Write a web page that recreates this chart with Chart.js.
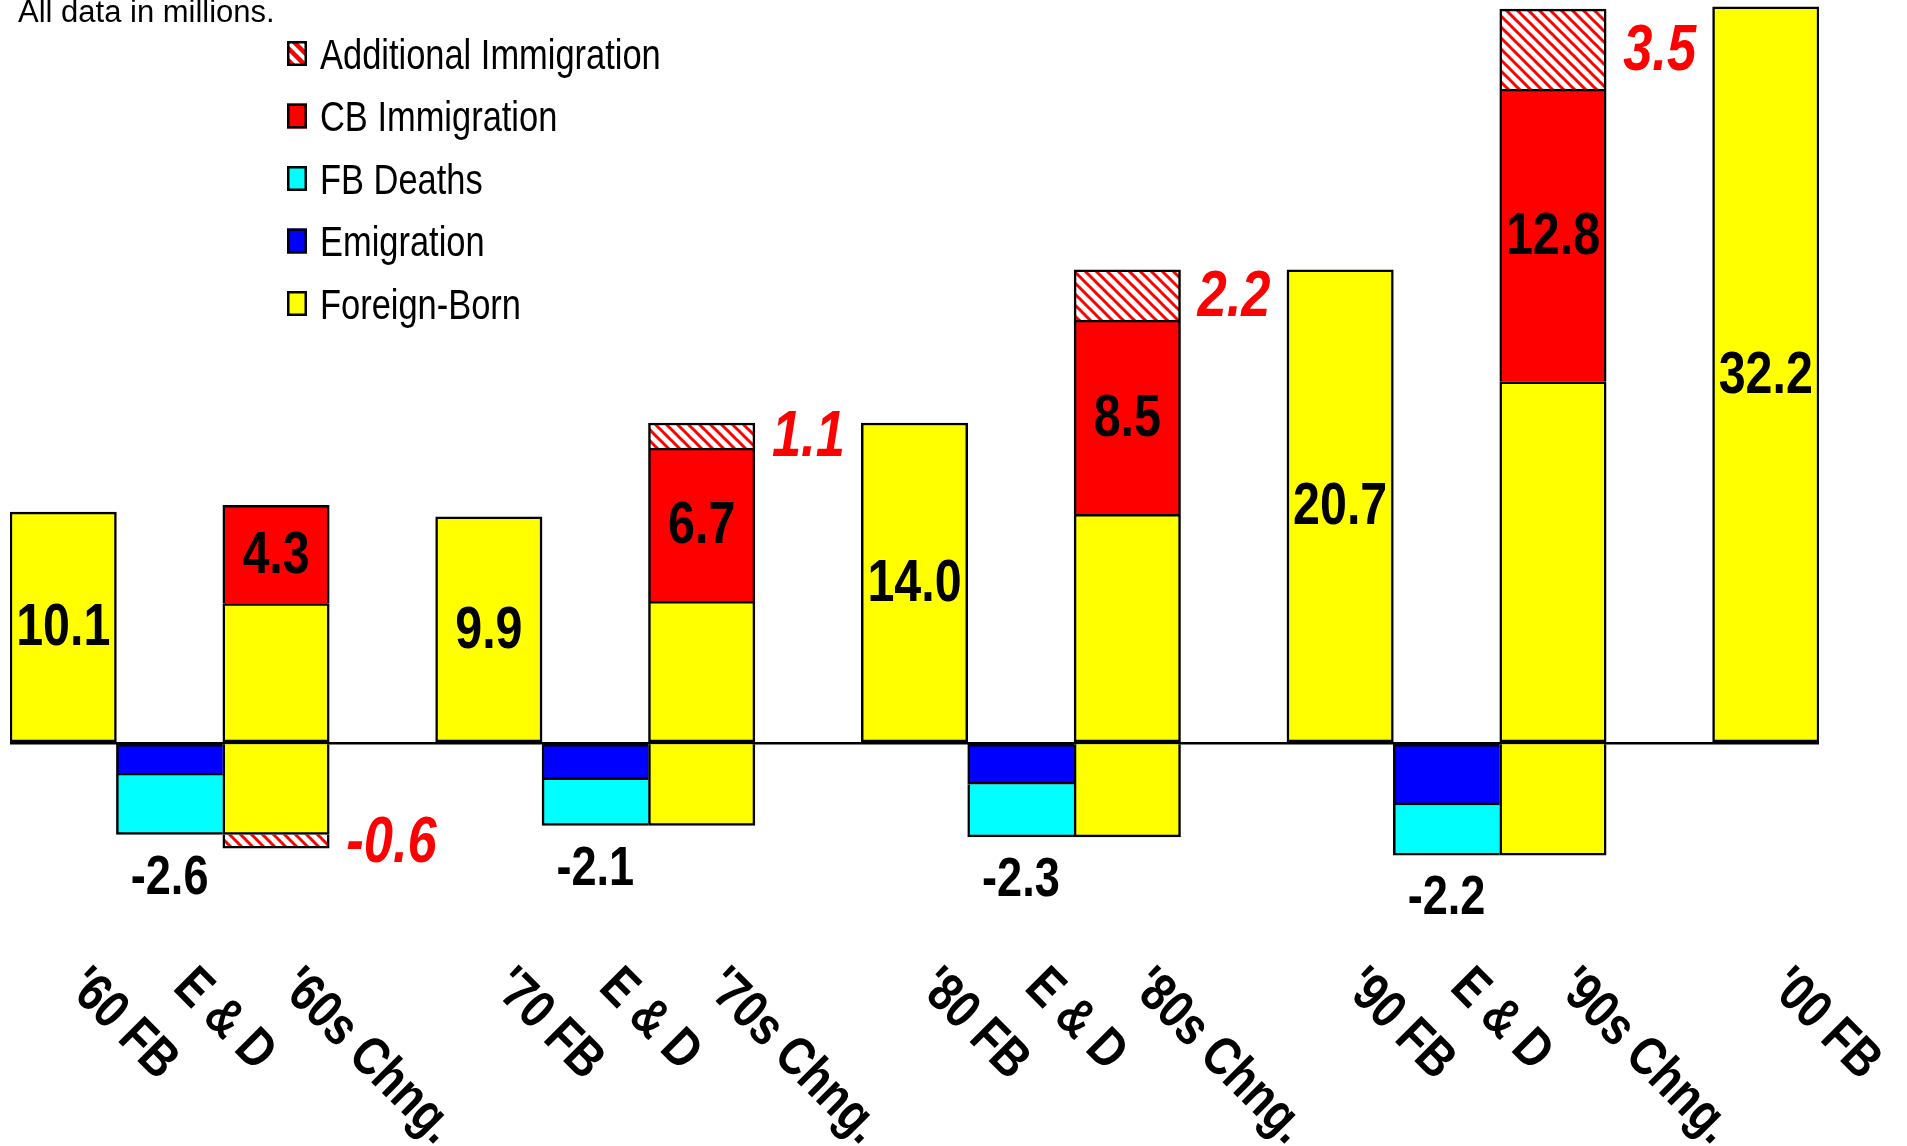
<!DOCTYPE html>
<html>
<head>
<meta charset="utf-8">
<script src="https://cdn.jsdelivr.net/npm/chart.js@4.4.1/dist/chart.umd.min.js"></script>
<style>
html,body{margin:0;padding:0;background:#fff;}
#wrap{position:relative;width:1907px;height:1146px;}
</style>
</head>
<body>
<div id="wrap"><canvas id="c"></canvas></div>
<script>
// ---- data (millions) ----
const categories = ["'60 FB","E & D","'60s Chng.","","'70 FB","E & D","'70s Chng.","","'80 FB","E & D","'80s Chng.","","'90 FB","E & D","'90s Chng.","","'00 FB"];
const foreignBorn          = [10.1, null, 6.1, null, 9.9, null, 6.2, null, 14.0, null, 10.0, null, 20.7, null, 15.8, null, 32.2];
const foreignBornBelow     = [null, null, -4.0, null, null, null, -3.6, null, null, null, -4.1, null, null, null, -4.9, null, null];
const emigration           = [null, -1.4, null, null, null, -1.6, null, null, null, -1.8, null, null, null, -2.7, null, null, null];
const fbDeaths             = [null, -2.6, null, null, null, -2.0, null, null, null, -2.3, null, null, null, -2.2, null, null, null];
const cbImmigration        = [null, null, 4.3, null, null, null, 6.7, null, null, null, 8.5, null, null, null, 12.8, null, null];
const additionalImmigration= [null, null, -0.6, null, null, null, 1.1, null, null, null, 2.2, null, null, null, 3.5, null, null];
const edLabels             = [null, "-2.6", null, null, null, "-2.1", null, null, null, "-2.3", null, null, null, "-2.2", null, null, null];
const noteText = "All data in millions.";

// ---- fonts ----
const mctx = document.createElement('canvas').getContext('2d');
function mw(f){ mctx.font = f; return mctx.measureText('Abcdefgh 0123456789 Immigration').width; }
const hasNarrow = mw('bold 40px "Liberation Sans Narrow", monospace') !== mw('bold 40px monospace');
const NARROW = hasNarrow ? '"Liberation Sans Narrow", "Arial Narrow"' : '"Liberation Sans", Arial';
const SX = hasNarrow ? 1 : 0.82;

function drawText(ctx, text, x, y, font, color, align, baseline, angle, sx) {
  ctx.save();
  ctx.translate(x, y);
  if (angle) ctx.rotate(angle);
  ctx.scale(sx === undefined ? SX : sx, 1);
  ctx.font = font;
  ctx.fillStyle = color;
  ctx.textAlign = align;
  ctx.textBaseline = baseline;
  ctx.fillText(text, 0, 0);
  ctx.restore();
}

const canvas = document.getElementById('c');
const cctx = canvas.getContext('2d');
function makeHatch(p, lw) {
  const c = document.createElement('canvas');
  c.width = p; c.height = p;
  const g = c.getContext('2d');
  g.fillStyle = '#ffffff'; g.fillRect(0, 0, p, p);
  g.strokeStyle = '#FF0000'; g.lineWidth = lw;
  for (let k = -1; k <= 1; k++) {
    g.beginPath();
    g.moveTo(-2, -2 + k * p);
    g.lineTo(p + 2, p + 2 + k * p);
    g.stroke();
  }
  return cctx.createPattern(c, 'repeat');
}
const hatchBar = makeHatch(11, 3);
const hatchLegend = makeHatch(12, 4.5);

const B = 2.5;
const labelPlugin = {
  id: 'labels',
  afterDatasetsDraw(chart) {
    const ctx = chart.ctx;
    const metaFB = chart.getDatasetMeta(0);
    const metaDeaths = chart.getDatasetMeta(3);
    const metaCB = chart.getDatasetMeta(4);
    const metaAdd = chart.getDatasetMeta(5);
    const valFont = 'bold 59px ' + NARROW;
    categories.forEach((cat, i) => {
      if (foreignBorn[i] !== null && cat.endsWith('FB')) {
        const el = metaFB.data[i];
        drawText(ctx, foreignBorn[i].toFixed(1), el.x, (el.y + el.base) / 2 + 2, valFont, '#000', 'center', 'middle');
      }
      if (cbImmigration[i] !== null) {
        const el = metaCB.data[i];
        drawText(ctx, cbImmigration[i].toFixed(1), el.x, (el.y + el.base) / 2 + 2, valFont, '#000', 'center', 'middle');
      }
      if (edLabels[i] !== null) {
        const el = metaDeaths.data[i];
        const bottom = Math.max(el.y, el.base);
        drawText(ctx, edLabels[i], el.x, bottom + 44, 'bold 55px ' + NARROW, '#000', 'center', 'middle');
      }
      if (additionalImmigration[i] !== null) {
        const el = metaAdd.data[i];
        drawText(ctx, additionalImmigration[i].toFixed(1), el.x + el.width / 2 + 17, (el.y + el.base) / 2 + 3,
          'italic bold 64px ' + NARROW, '#FF0000', 'left', 'middle');
      }
    });
  },
  afterDraw(chart) {
    const ctx = chart.ctx;
    const xs = chart.scales.x;
    // category labels, rotated
    categories.forEach((cat, i) => {
      if (!cat) return;
      const x = xs.getPixelForValue(i);
      drawText(ctx, cat, x + 2, 989, 'bold 54px ' + NARROW, '#000', 'left', 'alphabetic', Math.PI / 4);
    });
    // note
    drawText(ctx, noteText, 18, 22, '31px "Liberation Sans", Arial', '#000', 'left', 'alphabetic', 0, 1);
    // legend
    const items = chart.data.datasets.map((d, i) => ({d, i})).filter(o => !o.d.label.startsWith('_')).reverse();
    items.forEach((o, k) => {
      const cy = 53.5 + k * 62.5;
      const bx = 287, bw = 20, bh = 25;
      ctx.save();
      ctx.fillStyle = o.d.legendFill || o.d.backgroundColor;
      ctx.fillRect(bx, cy - bh / 2, bw, bh);
      ctx.lineWidth = 2.5;
      ctx.strokeStyle = '#000';
      ctx.strokeRect(bx + 1.25, cy - bh / 2 + 1.25, bw - 2.5, bh - 2.5);
      ctx.restore();
      drawText(ctx, o.d.label, 320, cy + 15, '42px ' + NARROW, '#000', 'left', 'alphabetic');
    });
  }
};

const common = { borderColor: '#000', borderSkipped: false, barPercentage: 1, categoryPercentage: 1 };

new Chart(canvas, {
  type: 'bar',
  data: {
    labels: categories,
    datasets: [
      Object.assign({ label: 'Foreign-Born', data: foreignBorn, backgroundColor: '#FFFF00', borderWidth: B }, common),
      Object.assign({ label: '_Foreign-Born below', data: foreignBornBelow, backgroundColor: '#FFFF00', borderWidth: {top: 0, right: B, bottom: B, left: B} }, common),
      Object.assign({ label: 'Emigration', data: emigration, backgroundColor: '#0000FF', borderWidth: {top: B, right: 0, bottom: B, left: B} }, common),
      Object.assign({ label: 'FB Deaths', data: fbDeaths, backgroundColor: '#00FFFF', borderWidth: {top: 0, right: 0, bottom: B, left: B} }, common),
      Object.assign({ label: 'CB Immigration', data: cbImmigration, backgroundColor: '#FF0000', borderWidth: {top: B, right: B, bottom: 0, left: B} }, common),
      Object.assign({ label: 'Additional Immigration', data: additionalImmigration, backgroundColor: hatchBar, legendFill: hatchLegend,
        borderWidth: (c) => (c.raw !== null && c.raw < 0) ? {top: 0, right: B, bottom: B, left: B} : {top: B, right: B, bottom: 0, left: B} }, common)
    ]
  },
  options: {
    responsive: true,
    maintainAspectRatio: false,
    animation: false,
    layout: { padding: { left: 10, right: 88, top: 0, bottom: 220 } },
    plugins: { legend: { display: false }, tooltip: { enabled: false } },
    scales: {
      x: { type: 'category', stacked: true, display: false },
      y: {
        stacked: true,
        min: -8, max: 32.5,
        ticks: { display: false, stepSize: 5 },
        border: { display: false },
        grid: {
          drawTicks: false,
          lineWidth: 2.5,
          color: (c) => (c.tick && c.tick.value === 0) ? '#000' : 'rgba(0,0,0,0)'
        }
      }
    }
  },
  plugins: [labelPlugin]
});
</script>
</body>
</html>
